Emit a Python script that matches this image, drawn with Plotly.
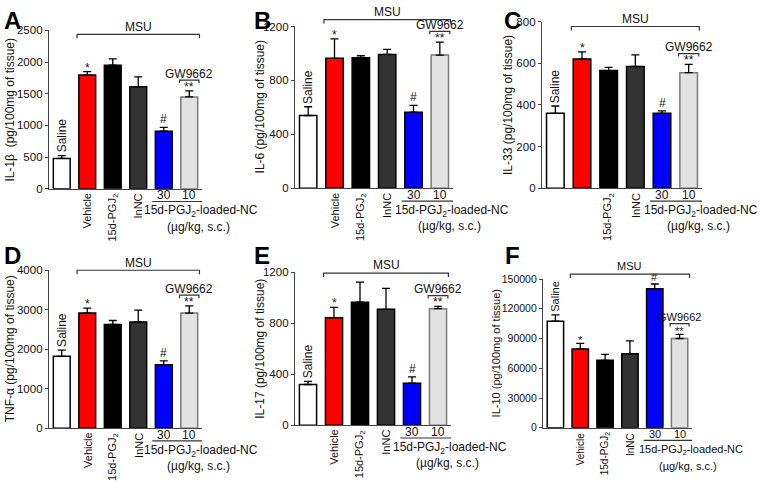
import plotly.graph_objects as go

W, H = 760, 483
FONT = "Liberation Sans, Arial, sans-serif"

# groups on the x axis
groups = ["Saline", "Vehicle", "15d-PGJ<sub>2</sub>", "InNC", "30", "10"]
bar_colors = ["#ffffff", "#ff0000", "#000000", "#333333", "#0000ff", "#e2e2e2"]
edge_colors = ["#000000", "#000000", "#000000", "#000000", "#000000", "#7a7a7a"]

# values (pg/100mg of tissue), mean and upper SEM
il1b = [480, 1795, 1950, 1612, 910, 1450]
il1b_err = [45, 55, 100, 155, 60, 95]
il6 = [540, 964, 968, 993, 565, 988]
il6_err = [65, 144, 15, 38, 50, 96]
il33 = [360, 620, 565, 585, 360, 555]
il33_err = [35, 35, 15, 55, 12, 40]
tnfa = [1820, 2917, 2630, 2690, 1610, 2917]
tnfa_err = [158, 122, 98, 300, 98, 180]
il17 = [320, 843, 965, 909, 330, 914]
il17_err = [25, 81, 158, 164, 50, 18]
il10 = [107400, 79500, 68000, 74600, 140200, 90000]
il10_err = [6500, 5600, 6000, 13100, 4800, 4200]

# significance marks per bar
marks = ["", "*", "", "", "#", "**"]

panels = [
    dict(letter="A", title="IL-1β  (pg/100mg of tissue)", y=il1b, e=il1b_err, ymax=2500, dtick=500,
         box=(49, 202, 25, 187.5), msu=(29, 22), ttl_x=10, let=(2, 2), fs=12, vehicle=True),
    dict(letter="B", title="IL-6 (pg/100mg of tissue)", y=il6, e=il6_err, ymax=1200, dtick=400,
         box=(295, 453, 21, 187), msu=(14, 6), ttl_x=260, let=(252, 2), fs=12, vehicle=True),
    dict(letter="C", title="IL-33 (pg/100mg of tissue)", y=il33, e=il33_err, ymax=800, dtick=200,
         box=(542, 702, 16, 187), msu=(21, 13), ttl_x=508, let=(502, 2), fs=12, vehicle=False),
    dict(letter="D", title="TNF-α (pg/100mg of tissue)", y=tnfa, e=tnfa_err, ymax=4000, dtick=1000,
         box=(49, 202, 271, 433), msu=(271, 264), ttl_x=10, let=(2, 243), fs=12, vehicle=True),
    dict(letter="E", title="IL-17 (pg/100mg of tissue)", y=il17, e=il17_err, ymax=1200, dtick=400,
         box=(295, 451, 273, 430), msu=(274, 266), ttl_x=260, let=(252, 243), fs=12, vehicle=True),
    dict(letter="F", title="IL-10 (pg/100mg of tissue)", y=il10, e=il10_err, ymax=150000, dtick=30000,
         box=(543, 692, 280, 432.5), msu=(275, 267), ttl_x=496, let=(503, 243), fs=11, vehicle=True),
]


def py(p):
    return 1 - p / H


fig = go.Figure()
shapes = []
ann = []
line = dict(color="#333333", width=1.2)


def note(text, x, y, xref, yref, font, xanchor="center", yanchor="middle", **kw):
    d = dict(text=text, x=x, y=y, xref=xref, yref=yref, xanchor=xanchor, yanchor=yanchor,
             showarrow=False, font=font)
    d.update(kw)
    ann.append(d)


for n, p in enumerate(panels, start=1):
    xs = "" if n == 1 else str(n)
    xa, ya = "x" + xs, "y" + xs
    x0, x1, y0, y1 = p["box"]
    fs = p["fs"]
    ymax = p["ymax"]
    txt = dict(family=FONT, size=fs, color="#111111")
    small = dict(family=FONT, size=fs - 1, color="#111111")

    fig.add_trace(go.Bar(
        x=list(range(6)), y=p["y"], width=0.66,
        marker=dict(color=bar_colors, line=dict(color=edge_colors, width=1.5)),
        error_y=dict(type="data", array=p["e"], arrayminus=[0] * 6, symmetric=False,
                     color="#000000", thickness=1.3, width=4),
        xaxis=xa, yaxis=ya, showlegend=False, hoverinfo="skip",
    ))

    fig.layout["xaxis" + xs] = dict(
        domain=[x0 / W, x1 / W], range=[-0.5, 5.5], anchor=ya,
        showline=True, linecolor="#444444", linewidth=1.3,
        showticklabels=False, ticks="", showgrid=False, zeroline=False, fixedrange=True,
    )
    fig.layout["yaxis" + xs] = dict(
        domain=[py(y1), py(y0)], range=[0, ymax], anchor=xa, dtick=p["dtick"], tickformat="d",
        showline=True, linecolor="#444444", linewidth=1.3,
        ticks="outside", ticklen=3, tickwidth=1.2, tickcolor="#444444",
        tickfont=dict(family=FONT, size=fs - 0.5, color="#111111"),
        showgrid=False, zeroline=False, fixedrange=True,
    )

    def ypx(v):
        return y1 - v / ymax * (y1 - y0)

    # panel letter
    note("<b>%s</b>" % p["letter"], p["let"][0] / W, py(p["let"][1] - 3), "paper", "paper",
         dict(family=FONT, size=24, color="#000000"), xanchor="left", yanchor="top")

    # y axis title
    note(p["title"], p["ttl_x"] / W, py((y0 + y1) / 2), "paper", "paper", txt, textangle=-90)

    # saline label above bar
    note(groups[0], 0, p["y"][0] + p["e"][0], xa, ya, txt, yanchor="bottom", yshift=1, textangle=-90)

    # rotated group labels under axis
    for i in (1, 2, 3):
        if i == 1 and not p["vehicle"]:
            continue
        note(groups[i], i, py(y1 + 3), xa, "paper", small, yanchor="top", textangle=-90)
    for i in (4, 5):
        note(groups[i], i, py(y1 + 6.5), xa, "paper", txt)
    shapes.append(dict(type="line", xref=xa, yref="paper", x0=3.55, x1=5.5,
                       y0=py(y1 + 13), y1=py(y1 + 13), line=line))
    note("15d-PGJ<sub>2</sub>-loaded-NC", 5.45, py(y1 + 23), xa, "paper", txt)
    note("(µg/kg, s.c.)", 5.35, py(y1 + 39), xa, "paper", txt)

    # MSU bracket
    ly, ty = p["msu"]
    shapes.append(dict(type="path", xref=xa, yref="paper",
                       path="M 0.6,%f L 0.6,%f L 5.4,%f L 5.4,%f" % (py(ly + 4), py(ly), py(ly), py(ly + 4)),
                       line=line))
    note("MSU", 3.0, py(ty), xa, "paper", txt)

    # GW9662 bracket over last bar
    top = ypx(p["y"][5] + p["e"][5])
    by = top - 11
    shapes.append(dict(type="path", xref=xa, yref="paper",
                       path="M 4.62,%f L 4.62,%f L 5.38,%f L 5.38,%f" % (py(by + 3), py(by), py(by), py(by + 3)),
                       line=line))
    note("GW9662", 5.0, py(by - 6.5), xa, "paper", txt)

    # significance marks
    for i in (1, 4, 5):
        note(marks[i], i, p["y"][i] + p["e"][i], xa, ya, txt, yanchor="bottom",
             yshift=-5 if marks[i] != "#" else -1)

fig.update_layout(
    width=W, height=H, margin=dict(l=0, r=0, t=0, b=0),
    paper_bgcolor="white", plot_bgcolor="white",
    shapes=shapes, annotations=ann, bargap=0.3,
)

# page body margin would push the fixed-size figure off the window
fig.write_html("out.html", config={"displayModeBar": False},
               post_script="document.body.style.margin='0px';")
